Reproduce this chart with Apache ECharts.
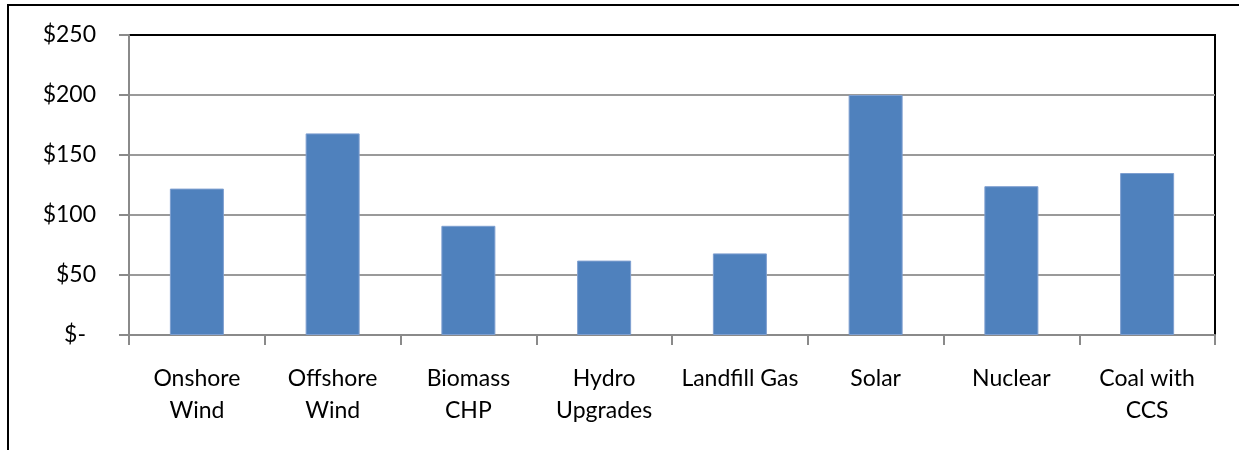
<!DOCTYPE html>
<html>
<head>
<meta charset="utf-8">
<script src="https://cdn.jsdelivr.net/npm/echarts@6/dist/echarts.min.js"></script>
<style>
html,body{margin:0;padding:0;background:#fff;}
#chart{width:1239px;height:450px;}
</style>
</head>
<body>
<div id="chart"></div>
<script>
const categories = ['Onshore\nWind', 'Offshore\nWind', 'Biomass\nCHP', 'Hydro\nUpgrades', 'Landfill Gas', 'Solar', 'Nuclear', 'Coal with\nCCS'];
const values = [122, 168, 91, 62, 68, 200, 124, 135];
const yTicks = [0, 50, 100, 150, 200, 250];

const FONT = 'Lato';
const chart = echarts.init(document.getElementById('chart'), null, {renderer: 'canvas'});
chart.setOption({
  animation: false,
  backgroundColor: '#ffffff',
  graphic: [{
    type: 'rect',
    shape: {x: 8, y: 5, width: 1300, height: 600},
    style: {fill: 'none', stroke: '#000', lineWidth: 2},
    z: -10, silent: true
  }],
  grid: {
    left: 129, right: 24, top: 35, bottom: 115,
    show: true, borderColor: '#000', borderWidth: 2, backgroundColor: 'transparent'
  },
  xAxis: {
    type: 'category',
    data: categories,
    axisLine: {show: true, lineStyle: {color: '#8a8a8a', width: 2}},
    axisTick: {show: true, length: 10, alignWithLabel: false, lineStyle: {color: '#8a8a8a', width: 2}},
    axisLabel: {
      color: '#000', fontFamily: FONT, fontSize: 23, lineHeight: 32, margin: 28,
      interval: 0
    },
    splitLine: {show: false}
  },
  yAxis: {
    type: 'value',
    min: yTicks[0], max: yTicks[yTicks.length - 1], interval: 50,
    axisLine: {show: true, lineStyle: {color: '#8a8a8a', width: 2}},
    axisTick: {show: true, length: 10, lineStyle: {color: '#8a8a8a', width: 2}},
    splitLine: {show: true, showMaxLine: false, lineStyle: {color: '#9a9a9a', width: 2}},
    axisLabel: {
      color: '#000', fontFamily: FONT, fontSize: 23, margin: 33,
      formatter: function (v) { return v === 0 ? '{z|$-}' : '$' + v; },
      rich: {z: {color: '#000', fontFamily: FONT, fontSize: 23, padding: [0, 10, 0, 0]}}
    }
  },
  series: [{
    type: 'bar',
    data: values,
    barWidth: 54,
    itemStyle: {color: '#4F81BD', borderColor: '#7E9FD0', borderWidth: 1},
    z: 3
  }]
});
</script>
</body>
</html>
